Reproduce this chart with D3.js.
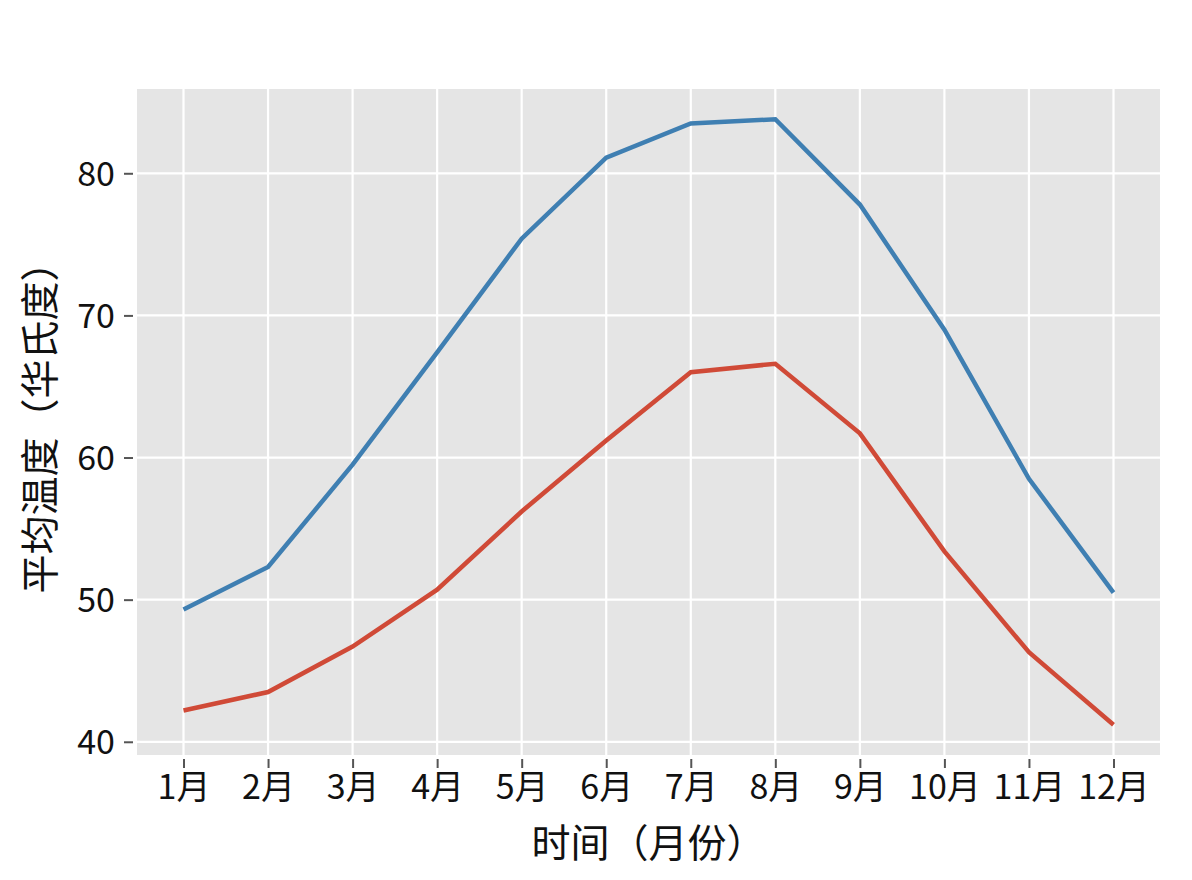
<!DOCTYPE html>
<html>
<head>
<meta charset="utf-8">
<script src="https://cdn.jsdelivr.net/npm/d3@7"></script>
<style>
    body { margin: 0; background: #fff; }
    text { font-family: "Noto Sans CJK SC", "Noto Sans", sans-serif; fill: #111; }
</style>
</head>
<body>
<div id="chart"></div>
<script>
// data
const months = [1, 2, 3, 4, 5, 6, 7, 8, 9, 10, 11, 12];
const monthLabels = ["1月", "2月", "3月", "4月", "5月", "6月", "7月", "8月", "9月", "10月", "11月", "12月"];
const highTemps = [49.3, 52.3, 59.5, 67.4, 75.4, 81.1, 83.5, 83.8, 77.8, 69.0, 58.5, 50.5];
const lowTemps = [42.2, 43.5, 46.7, 50.7, 56.2, 61.2, 66.0, 66.6, 61.7, 53.4, 46.3, 41.2];
const yTicks = [40, 50, 60, 70, 80];

// margin convention
const svgWidth = 1192,
    svgHeight = 880,
    margin = { top: 89, right: 32, bottom: 125, left: 137 },
    width = svgWidth - margin.left - margin.right,
    height = svgHeight - margin.top - margin.bottom;

let svg = d3.select("#chart").append("svg")
    .attr("width", svgWidth)
    .attr("height", svgHeight);
let plotGroup = svg.append("g")
    .attr("transform", `translate(${margin.left},${margin.top})`);

// scales (matplotlib-style 5% margins)
const allTemps = highTemps.concat(lowTemps);
const yMin = d3.min(allTemps), yMax = d3.max(allTemps), yPad = (yMax - yMin) * 0.05;
const xScale = d3.scaleLinear()
    .domain([1 - 11 * 0.05, 12 + 11 * 0.05])
    .range([0, width]);
const yScale = d3.scaleLinear()
    .domain([yMin - yPad, yMax + yPad])
    .range([height, 0]);

// background
plotGroup.append("rect")
    .attr("width", width)
    .attr("height", height)
    .attr("fill", "#e5e5e5");

// grid
plotGroup.append("g")
    .selectAll("line")
    .data(months)
    .join("line")
    .attr("x1", (d) => xScale(d))
    .attr("x2", (d) => xScale(d))
    .attr("y1", 0)
    .attr("y2", height)
    .attr("stroke", "#fff")
    .attr("stroke-width", 2.2);
plotGroup.append("g")
    .selectAll("line")
    .data(yTicks)
    .join("line")
    .attr("x1", 0)
    .attr("x2", width)
    .attr("y1", (d) => yScale(d))
    .attr("y2", (d) => yScale(d))
    .attr("stroke", "#fff")
    .attr("stroke-width", 2.2);

// axes
let xAxis = svg.append("g")
    .attr("transform", `translate(${margin.left},${margin.top + height + 4})`)
    .call(d3.axisBottom(xScale)
        .tickValues(months)
        .tickFormat((d, i) => monthLabels[i])
        .tickSize(9)
        .tickPadding(7));
let yAxis = svg.append("g")
    .attr("transform", `translate(${margin.left - 4},${margin.top})`)
    .call(d3.axisLeft(yScale)
        .tickValues(yTicks)
        .tickSize(9)
        .tickPadding(9));

[xAxis, yAxis].forEach((ax) => {
    ax.select(".domain").remove();
    ax.selectAll(".tick line").attr("stroke", "#555").attr("stroke-width", 2);
    ax.selectAll(".tick text")
        .attr("font-size", 34)
        .attr("fill", "#111")
        .style("font-family", '"Noto Sans CJK SC", sans-serif');
});
yAxis.selectAll(".tick text").attr("dy", "0.35em");

// lines
const line = d3.line()
    .x((d, i) => xScale(months[i]))
    .y((d) => yScale(d));

plotGroup.append("path")
    .datum(highTemps)
    .attr("d", line)
    .attr("fill", "none")
    .attr("stroke", "#3f7fb2")
    .attr("stroke-width", 4.5);
plotGroup.append("path")
    .datum(lowTemps)
    .attr("d", line)
    .attr("fill", "none")
    .attr("stroke", "#d04a37")
    .attr("stroke-width", 4.5);

// axis labels
svg.append("text")
    .attr("x", margin.left + width / 2)
    .attr("y", 857)
    .attr("text-anchor", "middle")
    .attr("font-size", 39)
    .text("时间（月份）");
svg.append("text")
    .attr("transform", `translate(54, ${margin.top + height / 2 - 4}) rotate(-90)`)
    .attr("text-anchor", "middle")
    .attr("font-size", 39)
    .text("平均温度（华氏度）");
</script>
</body>
</html>
